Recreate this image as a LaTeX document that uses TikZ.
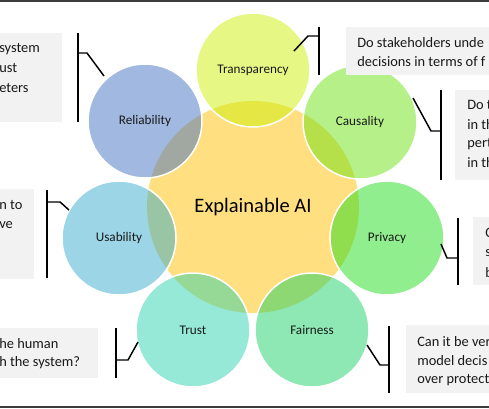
\documentclass[tikz,border=0pt]{standalone}
\usepackage{fontspec}
\setmainfont{Carlito}

\definecolor{coreC}{HTML}{FFC000}
\definecolor{relC}{HTML}{4472C4}
\definecolor{traC}{RGB}{205,240,10}
\definecolor{cauC}{RGB}{110,225,20}
\definecolor{priC}{RGB}{35,221,30}
\definecolor{faiC}{RGB}{30,209,105}
\definecolor{truC}{RGB}{45,209,175}
\definecolor{usaC}{RGB}{55,171,205}
\definecolor{boxgray}{HTML}{F2F2F2}
\definecolor{edgegray}{HTML}{3C3C3C}

\tikzset{
  trait/.style={circle, minimum size=85.5pt, inner sep=0pt, fill opacity=.5,
    text opacity=1, draw=white, draw opacity=1, line width=1.1pt,
    text=black!90, font=\fontsize{9.9}{12}\selectfont},
  qbox/.style={fill=boxgray},
  qtext/.style={anchor=west, inner sep=0pt, text=black!90,
    font=\fontsize{10.8}{13}\selectfont},
  bracket/.style={line width=1.1pt, black}
}

\begin{document}
\begin{tikzpicture}[x=0.75pt, y=-0.75pt]
      \useasboundingbox (0,0) rectangle (489,408);
      \fill[edgegray] (0,0) rectangle (489,2);
      \fill[edgegray] (0,406) rectangle (489,408);

      % centre
      \node[circle, minimum size=159pt, inner sep=0pt, fill=coreC, fill opacity=.5,
        text opacity=1, font=\fontsize{15.4}{18}\selectfont] (core) at (253,207) {Explainable AI};

      % seven properties
      \node[trait, fill=traC] (tra) at (253,70) {Transparency};
      \node[trait, fill=cauC] (cau) at (360,122) {Causality};
      \node[trait, fill=priC] (pri) at (387,238) {Privacy};
      \node[trait, fill=faiC] (fai) at (312,330) {Fairness};
      \node[trait, fill=truC] (tru) at (193,330) {Trust};
      \node[trait, fill=usaC] (usa) at (119,238) {Usability};
      \node[trait, fill=relC] (rel) at (145,121) {Reliability};

      % question boxes
      \fill[qbox] (0,33) rectangle (62,122);
      \node[qtext] (relQa) at (-1,49) {system};
      \node[qtext] (relQb) at (-1,68) {ust};
      \node[qtext] (relQc) at (-1,88) {eters};

      \fill[qbox] (346,27) rectangle (489,75);
      \node[qtext] (traQa) at (357,43) {Do stakeholders unde};
      \node[qtext] (traQb) at (357,62) {decisions in terms of f};

      \fill[qbox] (455,90) rectangle (489,180);
      \node[qtext] (cauQa) at (467,105) {Do t};
      \node[qtext] (cauQb) at (467,125) {in th};
      \node[qtext] (cauQc) at (467,144) {pert};
      \node[qtext] (cauQd) at (467,163) {in th};

      \fill[qbox] (473,217) rectangle (489,285);
      \node[qtext] (priQa) at (485,233) {C};
      \node[qtext] (priQb) at (485,253) {s};
      \node[qtext] (priQc) at (485,273) {b};

      \fill[qbox] (406,325) rectangle (489,393);
      \node[qtext] (faiQa) at (417,342) {Can it be ver};
      \node[qtext] (faiQb) at (417,361) {model decis};
      \node[qtext] (faiQc) at (417,380) {over protect};

      \fill[qbox] (0,328) rectangle (98,378);
      \node[qtext] (truQa) at (-1,344) {he human};
      \node[qtext] (truQb) at (-1,363) {h the system?};

      \fill[qbox] (0,189) rectangle (34,279);
      \node[qtext] (usaQa) at (-1,205) {n to};
      \node[qtext] (usaQb) at (-1,225) {ve};

      % brackets
      \coordinate (relT) at (78,33);   \coordinate (relB) at (78,122);
      \coordinate (relE) at (78,53);   \coordinate (relK) at (87,53);   \coordinate (relP) at (104,76);
      \coordinate (traT) at (319,27);  \coordinate (traB) at (319,75);
      \coordinate (traE) at (319,36);  \coordinate (traK) at (308,36);  \coordinate (traP) at (294,51);
      \coordinate (cauT) at (441,90);  \coordinate (cauB) at (441,180);
      \coordinate (cauE) at (441,131); \coordinate (cauK) at (431,131); \coordinate (cauP) at (413,98);
      \coordinate (priT) at (458,218); \coordinate (priB) at (458,285);
      \coordinate (priE) at (458,258); \coordinate (priK) at (447,258); \coordinate (priP) at (441,244);
      \coordinate (faiT) at (389,326); \coordinate (faiB) at (389,393);
      \coordinate (faiE) at (389,365); \coordinate (faiK) at (380,365); \coordinate (faiP) at (367,345);
      \coordinate (truT) at (116,328); \coordinate (truB) at (116,378);
      \coordinate (truE) at (116,360); \coordinate (truK) at (128,360); \coordinate (truP) at (138,342);
      \coordinate (usaT) at (47,190);  \coordinate (usaB) at (47,278);
      \coordinate (usaE) at (47,202);  \coordinate (usaK) at (60,202);  \coordinate (usaP) at (69,210);

      \draw[bracket] (relT) -- (relB);  \draw[bracket] (relE) -- (relK) -- (relP);
      \draw[bracket] (traT) -- (traB);  \draw[bracket] (traE) -- (traK) -- (traP);
      \draw[bracket] (cauT) -- (cauB);  \draw[bracket] (cauE) -- (cauK) -- (cauP);
      \draw[bracket] (priT) -- (priB);  \draw[bracket] (priE) -- (priK) -- (priP);
      \draw[bracket] (faiT) -- (faiB);  \draw[bracket] (faiE) -- (faiK) -- (faiP);
      \draw[bracket] (truT) -- (truB);  \draw[bracket] (truE) -- (truK) -- (truP);
      \draw[bracket] (usaT) -- (usaB);  \draw[bracket] (usaE) -- (usaK) -- (usaP);
    \end{tikzpicture}
\end{document}
